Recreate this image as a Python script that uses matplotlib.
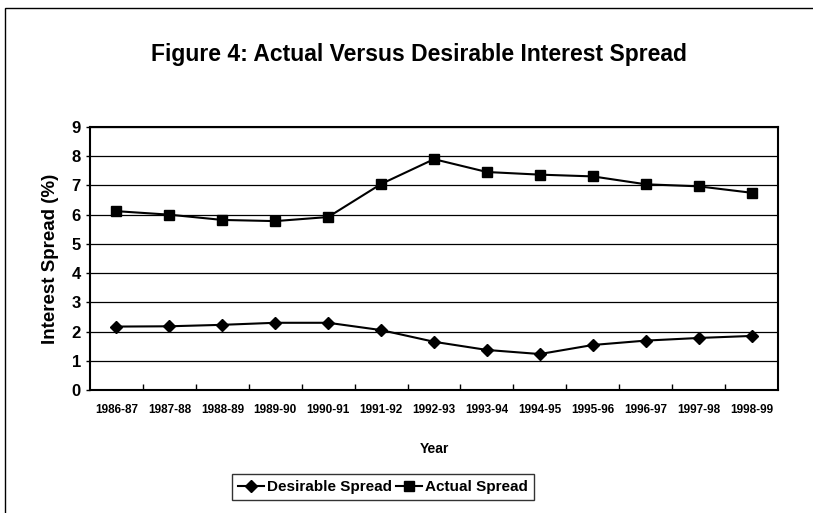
import matplotlib.pyplot as plt
import matplotlib.patches as mpatches
import numpy as np

years = ['1986-87', '1987-88', '1988-89', '1989-90', '1990-91', '1991-92', '1992-93',
         '1993-94', '1994-95', '1995-96', '1996-97', '1997-98', '1998-99']
desirable = [2.17, 2.18, 2.23, 2.3, 2.3, 2.05, 1.65, 1.37, 1.23, 1.54, 1.69, 1.78, 1.85]
actual = [6.12, 6.0, 5.82, 5.78, 5.92, 7.05, 7.9, 7.46, 7.37, 7.31, 7.04, 6.97, 6.75]

plt.rcParams['font.family'] = ['Liberation Sans Narrow', 'Liberation Sans', 'DejaVu Sans']

fig = plt.figure(figsize=(8.13, 5.13), dpi=100)
ax = fig.add_axes([0.1107, 0.2398, 0.8463, 0.5126])

x = np.arange(len(years))
ax.plot(x, desirable, color='black', lw=1.5, marker='D', ms=6.5, label='Desirable Spread')
ax.plot(x, actual, color='black', lw=1.5, marker='s', ms=7.5, label='Actual Spread')

ax.set_xlim(-0.5, len(years) - 0.5)
ax.set_ylim(0, 9)
ax.set_yticks(range(10))
ax.yaxis.grid(True, color='black', lw=0.9)
ax.set_axisbelow(True)

ax.set_xticks(x)
ax.set_xticklabels(years, fontsize=8.5, fontweight='bold')
ax.set_xticks(np.arange(0.5, len(years) - 1, 1), minor=True)
ax.tick_params(axis='x', which='major', length=0, pad=10)
ax.tick_params(axis='x', which='minor', direction='in', length=4, width=1)
ax.tick_params(axis='y', labelsize=12, length=3, width=1)
for lab in ax.get_yticklabels():
    lab.set_fontweight('bold')
for s in ax.spines.values():
    s.set_linewidth(1.5)

ax.set_ylabel('Interest Spread (%)', fontsize=13.5, fontweight='bold', labelpad=9)
ax.set_xlabel('Year', fontsize=10, fontweight='bold', labelpad=19)

fig.text(0.515, 0.893, 'Figure 4: Actual Versus Desirable Interest Spread',
         ha='center', va='center', fontsize=16.5, fontweight='bold')

leg = ax.legend(loc='center', bbox_to_anchor=(383 / 813, 1 - 487 / 513),
                bbox_transform=fig.transFigure, ncol=2, frameon=True, fancybox=False,
                edgecolor='black', handlelength=1.7, handletextpad=0.2, columnspacing=0.3,
                prop={'size': 11, 'weight': 'bold'}, borderpad=0.4)
leg.get_frame().set_linewidth(1.0)

fig.patches.append(mpatches.Rectangle((5 / 813, -0.1), 1.2, 1 - 8 / 513 + 0.1,
                                      transform=fig.transFigure, fill=False,
                                      edgecolor='black', lw=1.0))

fig.savefig('out.png', dpi=100)
